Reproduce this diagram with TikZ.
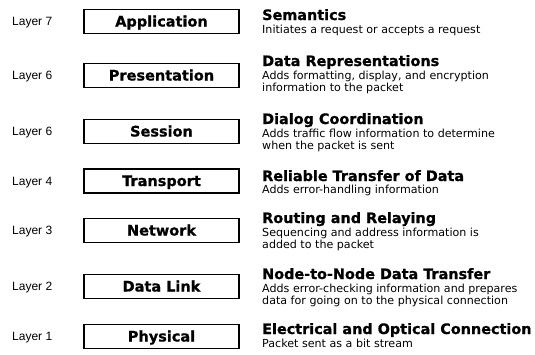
\documentclass[tikz,border=0pt]{standalone}
\usepackage{fontspec}
\newfontfamily\djs{DejaVu Sans}
\newfontfamily\djh{DejaVu Sans Bold}[FakeBold=0.8]
\newfontfamily\lib{Liberation Sans}
\begin{document}
\begin{tikzpicture}[x=1pt,y=-1pt,
  layerbox/.style={draw, line width=1.5pt, minimum width=155pt, minimum height=24pt,
    inner sep=0pt, text height=10.5pt, text depth=0.5pt,
    font=\djh\fontsize{14.5}{16}\selectfont},
  layerlbl/.style={anchor=base west, inner sep=0pt, font=\lib\fontsize{12}{14}\selectfont},
  ttl/.style={anchor=base west, inner sep=0pt, font=\djh\fontsize{14.4}{16}\selectfont},
  dsc/.style={anchor=base west, inner sep=0pt, font=\djs\fontsize{11.1}{12.5}\selectfont}]
\useasboundingbox (0,0) rectangle (535,354);
\fill[white] (0,0) rectangle (535,354);

% boxes
\node[layerbox] (b7) at (161.5,21.5) {Application};
\node[layerbox] (b6) at (161.5,75.5) {Presentation};
\node[layerbox] (b5) at (161.5,131.5) {Session};
\node[layerbox] (b4) at (161.5,181) {Transport};
\node[layerbox] (b3) at (161.5,230.5) {Network};
\node[layerbox] (b2) at (161.5,286.5) {Data Link};
\node[layerbox] (b1) at (161.5,336.5) {Physical};

% layer labels
\node[layerlbl] (l7) at (12,25.5) {Layer 7};
\node[layerlbl] (l6) at (12,79.5) {Layer 6};
\node[layerlbl] (l5) at (12,135.5) {Layer 6};
\node[layerlbl] (l4) at (12,185) {Layer 4};
\node[layerlbl] (l3) at (12,234.5) {Layer 3};
\node[layerlbl] (l2) at (12,290.5) {Layer 2};
\node[layerlbl] (l1) at (12,340.5) {Layer 1};

% titles and descriptions
\node[ttl] (t7) at (262,20) {Semantics};
\node[dsc] (d7a) at (262,33.5) {Initiates a request or accepts a request};

\node[ttl] (t6) at (262,66) {Data Representations};
\node[dsc] (d6a) at (262,79) {Adds formatting, display, and encryption};
\node[dsc] (d6b) at (262,91.5) {information to the packet};

\node[ttl] (t5) at (262,124) {Dialog Coordination};
\node[dsc] (d5a) at (262,137) {Adds traffic flow information to determine};
\node[dsc] (d5b) at (262,149.5) {when the packet is sent};

\node[ttl] (t4) at (262,181) {Reliable Transfer of Data};
\node[dsc] (d4a) at (262,193) {Adds error-handling information};

\node[ttl] (t3) at (262,223) {Routing and Relaying};
\node[dsc] (d3a) at (262,236) {Sequencing and address information is};
\node[dsc] (d3b) at (262,248.5) {added to the packet};

\node[ttl] (t2) at (262,279) {Node-to-Node Data Transfer};
\node[dsc] (d2a) at (262,292) {Adds error-checking information and prepares};
\node[dsc] (d2b) at (262,304.5) {data for going on to the physical connection};

\node[ttl] (t1) at (262,334) {Electrical and Optical Connection};
\node[dsc] (d1a) at (262,347) {Packet sent as a bit stream};
\end{tikzpicture}
\end{document}
